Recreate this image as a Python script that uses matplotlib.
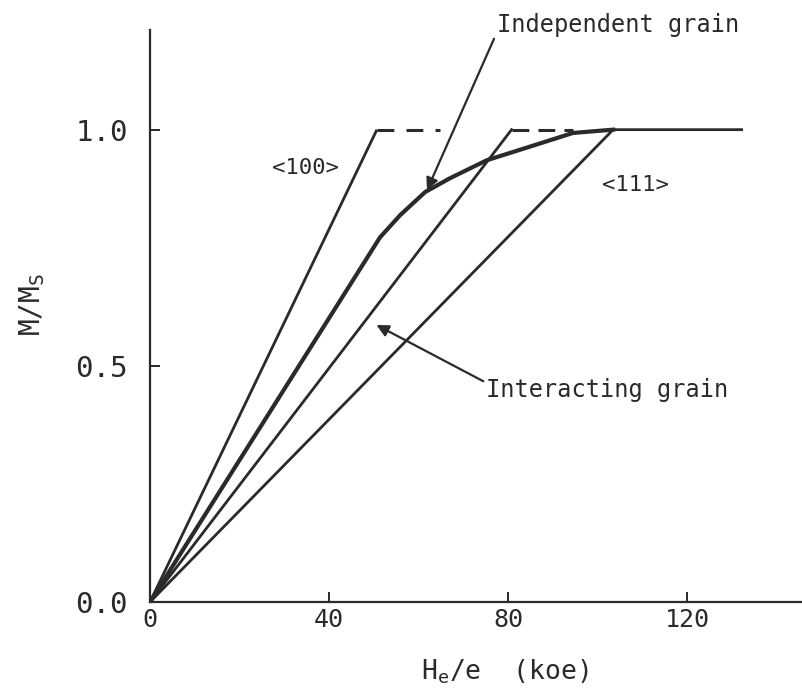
import matplotlib
matplotlib.use("Agg")
import matplotlib.pyplot as plt

plt.rcParams['font.family'] = ['DejaVu Sans Mono']
plt.rcParams['mathtext.fontset'] = 'custom'
plt.rcParams['mathtext.rm'] = 'DejaVu Sans Mono'
plt.rcParams['mathtext.it'] = 'DejaVu Sans Mono'

# <100> orientation
x100 = [0, 50.7]
y100 = [0, 1.0]
x100_dash = [50.7, 64.8]
y100_dash = [1.0, 1.0]

# Interacting grain
x_inter = [0, 80.8]
y_inter = [0, 1.0]
x_inter_dash = [80.8, 94.5]
y_inter_dash = [1.0, 1.0]

# Independent grain
x_indep = [0, 51.4, 55.9, 61.5, 67.0, 75.2, 87.2, 94.5, 103.5]
y_indep = [0, 0.772, 0.819, 0.868, 0.897, 0.935, 0.971, 0.993, 1.0]

# <111> orientation
x111 = [0, 103.5, 132.2]
y111 = [0, 1.0, 1.0]

xticks = [0, 40, 80, 120]
yticks = [0.0, 0.5, 1.0]
ytick_labels = ['0.0', '0.5', '1.0']

W, H = 802, 697
fig = plt.figure(figsize=(W / 100, H / 100), dpi=100)
ax = fig.add_axes([150 / W, (H - 602) / H, 652 / W, (602 - 30) / H])
ax.set_xlim(0, 145.7)
ax.set_ylim(0, 1.211)

c = '#2a2a2a'
ax.plot(x100, y100, color=c, lw=2.0, solid_capstyle='butt')
ax.plot(x100_dash, y100_dash, color=c, lw=2.2, linestyle=(0, (5.5, 4)))
ax.plot(x_inter, y_inter, color=c, lw=2.0)
ax.plot(x_inter_dash, y_inter_dash, color=c, lw=2.2, linestyle=(0, (5.5, 3)))
ax.plot(x_indep, y_indep, color=c, lw=3.0, solid_joinstyle='round')
ax.plot(x111, y111, color=c, lw=2.0)

for s in ['top', 'right']:
    ax.spines[s].set_visible(False)
for s in ['left', 'bottom']:
    ax.spines[s].set_linewidth(1.6)
    ax.spines[s].set_color(c)

ax.set_xticks(xticks)
ax.set_xticklabels([str(t) for t in xticks])
ax.set_yticks(yticks)
ax.set_yticklabels(ytick_labels)
ax.tick_params(direction='in', length=7, width=1.4, colors=c)
ax.tick_params(axis='x', labelsize=18, pad=4)
ax.tick_params(axis='y', labelsize=21, pad=16)

ax.text(27.2, 0.918, '<100>', fontsize=16, color=c, va='center', ha='left')
ax.text(100.9, 0.883, '<111>', fontsize=16, color=c, va='center', ha='left')

ax.annotate('Independent grain', xy=(61.9, 0.872), xytext=(77.5, 1.221),
            fontsize=17, color=c, ha='left', va='center', annotation_clip=False,
            arrowprops=dict(arrowstyle='-|>', color=c, lw=1.6, mutation_scale=18,
                            shrinkA=0, shrinkB=0, relpos=(0, 0.2)))
ax.annotate('Interacting grain', xy=(49.5, 0.592), xytext=(75.1, 0.449),
            fontsize=17, color=c, ha='left', va='center',
            arrowprops=dict(arrowstyle='-|>', color=c, lw=1.6, mutation_scale=18,
                            shrinkA=0, shrinkB=4, relpos=(0, 0.8)))

ax.set_xlabel(r'H$_\mathrm{e}$/e  (koe)', fontsize=19, color=c)
ax.xaxis.label.set_va('center')
ax.xaxis.set_label_coords((505 - 150) / 652, (602 - 672) / 572)

ax.set_ylabel(r'M/M$_\mathrm{S}$', fontsize=20, color=c)
ax.yaxis.label.set_va('center')
ax.yaxis.set_label_coords((32 - 150) / 652, (602 - 305) / 572)

fig.savefig('out.png', dpi=100)
